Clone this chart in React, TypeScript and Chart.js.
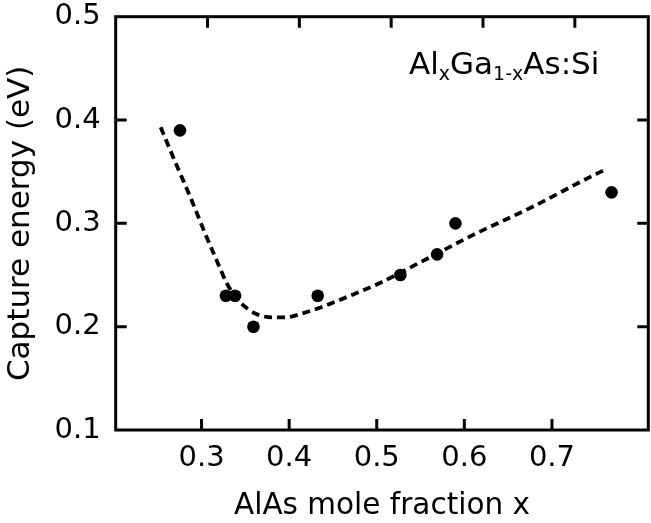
import React, { useEffect, useRef } from "react";
import { Chart, registerables } from "chart.js";

Chart.register(...registerables);

// Tick labels
const X_TICKS = [0.3, 0.4, 0.5, 0.6, 0.7];
const Y_TICKS = [0.1, 0.2, 0.3, 0.4, 0.5];

// Measured points (AlAs mole fraction x, capture energy eV)
const X_PTS = [0.27, 0.32, 0.33, 0.35, 0.42, 0.51, 0.55, 0.57, 0.74];
const Y_PTS = [0.39, 0.23, 0.23, 0.2, 0.23, 0.25, 0.27, 0.3, 0.33];

// Dashed guide curve
const FIT_X = [0.249, 0.2645, 0.281, 0.297, 0.31, 0.321, 0.332, 0.344, 0.357, 0.371, 0.386, 0.4, 0.4145, 0.43, 0.458, 0.487, 0.531, 0.592, 0.654, 0.708, 0.733];
const FIT_Y = [0.393, 0.36, 0.326, 0.291, 0.264, 0.242, 0.227, 0.217, 0.211, 0.209, 0.209, 0.212, 0.216, 0.221, 0.231, 0.242, 0.262, 0.29, 0.316, 0.341, 0.352];

const X_TITLE = "AlAs mole fraction x";
const Y_TITLE = "Capture energy (eV)";
const LABEL_PARTS: [string, boolean][] = [
  ["Al", false],
  ["x", true],
  ["Ga", false],
  ["1-x", true],
  ["As:Si", false],
];

const FONT = '"DejaVu Sans", "Liberation Sans", Arial, sans-serif';

const zeroPad = (s: any) => {
  s.paddingLeft = 0;
  s.paddingRight = 0;
  s.paddingTop = 0;
  s.paddingBottom = 0;
};

const framePlugin = {
  id: "frame",
  afterDatasetsDraw(chart: any) {
    const { ctx, chartArea: a, scales } = chart;
    ctx.save();
    ctx.strokeStyle = "#000";
    ctx.lineWidth = 3;
    ctx.strokeRect(a.left, a.top, a.right - a.left, a.bottom - a.top);
    const TL = 11;
    ctx.beginPath();
    X_TICKS.forEach((v) => {
      const pb = scales.x.getPixelForValue(v);
      ctx.moveTo(pb, a.bottom);
      ctx.lineTo(pb, a.bottom - TL);
      const pt = scales.xd.getPixelForValue(v);
      ctx.moveTo(pt, a.top);
      ctx.lineTo(pt, a.top + TL);
    });
    Y_TICKS.forEach((v) => {
      const py = scales.y.getPixelForValue(v);
      if (py > a.top + 2 && py < a.bottom - 2) {
        ctx.moveTo(a.left, py);
        ctx.lineTo(a.left + TL, py);
        ctx.moveTo(a.right, py);
        ctx.lineTo(a.right - TL, py);
      }
    });
    ctx.stroke();

    // annotation text
    ctx.fillStyle = "#000";
    ctx.textBaseline = "alphabetic";
    ctx.textAlign = "left";
    let x = 409;
    const base = 73.5;
    LABEL_PARTS.forEach(([t, sub]) => {
      ctx.font = sub ? `19px ${FONT}` : `31px ${FONT}`;
      ctx.fillText(t, x, sub ? base + 6 : base);
      x += ctx.measureText(t).width;
    });
    ctx.restore();
  },
};

export default function App() {
  const ref = useRef<HTMLCanvasElement | null>(null);

  useEffect(() => {
    if (!ref.current) return;
    const chart = new Chart(ref.current, {
      type: "scatter",
      data: {
        datasets: [
          {
            type: "scatter",
            label: "data",
            data: X_PTS.map((x, i) => ({ x, y: Y_PTS[i] })),
            xAxisID: "xd",
            yAxisID: "y",
            pointRadius: 6.3,
            pointBackgroundColor: "#000",
            pointBorderWidth: 0,
            borderColor: "#000",
            backgroundColor: "#000",
          },
          {
            type: "line",
            label: "fit",
            data: FIT_X.map((x, i) => ({ x, y: FIT_Y[i] })),
            xAxisID: "xd",
            yAxisID: "y",
            borderColor: "#000",
            borderWidth: 3.8,
            borderDash: [8, 5],
            pointRadius: 0,
            fill: false,
            cubicInterpolationMode: "monotone",
          } as any,
        ],
      },
      options: {
        animation: false,
        responsive: true,
        maintainAspectRatio: false,
        layout: { autoPadding: false, padding: { left: 0, right: 2.7, top: 16.7, bottom: 0 } },
        plugins: { legend: { display: false }, tooltip: { enabled: false } },
        scales: {
          x: {
            type: "linear",
            position: "bottom",
            min: 0.202,
            max: 0.81,
            grid: { display: false, drawTicks: false },
            border: { display: false },
            afterBuildTicks: (s: any) => {
              s.ticks = X_TICKS.map((value) => ({ value }));
            },
            afterFit: (s: any) => {
              s.height = 93;
              zeroPad(s);
            },
            ticks: {
              padding: 11,
              color: "#000",
              font: { family: FONT, size: 29 },
              maxRotation: 0,
              autoSkip: false,
              callback: (v: any) => Number(v).toFixed(1),
            },
            title: {
              display: true,
              text: X_TITLE,
              color: "#000",
              font: { family: FONT, size: 29.5 },
              padding: { top: 0, bottom: -1 },
            },
          },
          xd: {
            type: "linear",
            position: "top",
            min: 0.2,
            max: 0.78,
            display: false,
            afterFit: (s: any) => {
              s.height = 0;
              zeroPad(s);
            },
          },
          y: {
            type: "linear",
            position: "left",
            min: 0.1,
            max: 0.5,
            grid: { display: false, drawTicks: false },
            border: { display: false },
            afterBuildTicks: (s: any) => {
              s.ticks = Y_TICKS.map((value) => ({ value }));
            },
            afterFit: (s: any) => {
              s.width = 115.7;
              zeroPad(s);
            },
            ticks: {
              padding: 15,
              color: "#000",
              font: { family: FONT, size: 29 },
              callback: (v: any) => Number(v).toFixed(1),
            },
            title: {
              display: true,
              text: Y_TITLE,
              color: "#000",
              font: { family: FONT, size: 31 },
              padding: { top: 2, bottom: 0 },
            },
          },
        },
      } as any,
      plugins: [framePlugin],
    });
    return () => chart.destroy();
  }, []);

  return (
    <div style={{ position: "absolute", left: 0, top: 0, width: 651, height: 523, background: "#fff" }}>
      <canvas ref={ref} />
    </div>
  );
}
